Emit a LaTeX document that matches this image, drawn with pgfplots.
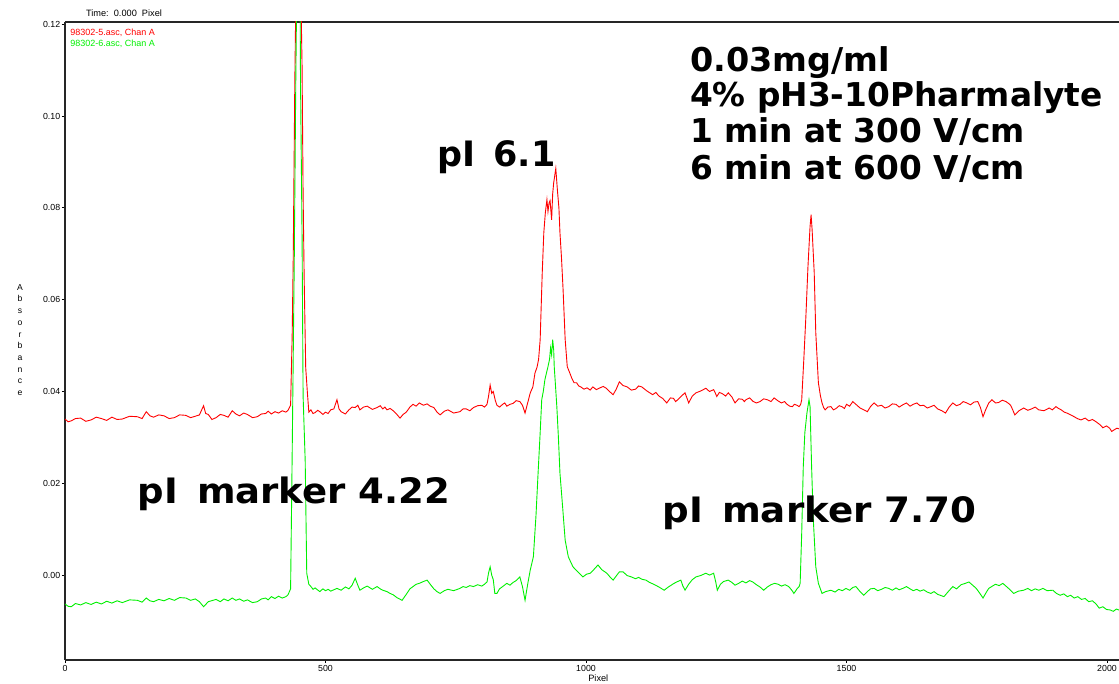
\documentclass[border=0pt]{standalone}
\usepackage{fontspec}
\setmainfont{Liberation Sans}
\newfontfamily\verd{DejaVu Sans}
\usepackage{graphicx}
\usepackage{pgfplots}
\pgfplotsset{compat=1.18}
\definecolor{tracered}{RGB}{255,0,0}
\definecolor{tracegreen}{RGB}{0,240,0}
\begin{document}
\begin{tikzpicture}
\begin{axis}[
  scale only axis, width=527pt, height=319pt,
  at={(0,0)}, anchor=south west,
  clip mode=individual,
  xmin=0, xmax=2023, ymin=-0.0185, ymax=0.1205,
  axis x line=box, axis y line=left,
  axis line style={-, line width=0.6pt, black!85},
  xtick={0,500,1000,1500,2000}, ytick={0,0.02,0.04,0.06,0.08,0.1,0.12},
  tick align=outside, tick pos=left, major tick length=1.6pt,
  every tick/.style={black, line width=0.4pt},
  /pgf/number format/assume math mode=true,
  tick label style={font=\fontsize{4.4}{5}\selectfont},
  yticklabel style={/pgf/number format/fixed, /pgf/number format/precision=2, /pgf/number format/fixed zerofill, inner sep=0.6pt},
  xticklabel style={inner sep=0.8pt, /pgf/number format/fixed, /pgf/number format/1000 sep={}},
  scaled y ticks=false,
]
\addplot[tracered, line width=0.45pt] coordinates {
(0,0.0340)(6,0.0334)(12,0.0336)(20,0.0341)(30,0.0342)(40,0.0335)(50,0.0338)(60,0.0344)(70,0.0341)(80,0.0337)(90,0.0344)(100,0.0339)(110,0.0340)(124,0.0346)(139,0.0345)(148,0.0341)(156,0.0356)(163,0.0347)(170,0.0344)(180,0.0349)(190,0.0347)(200,0.0341)(210,0.0343)(220,0.0349)(232,0.0348)(241,0.0343)(250,0.0346)(258,0.0349)(266,0.0369)(270,0.0352)(275,0.0350)(282,0.0339)(290,0.0343)(298,0.0350)(305,0.0348)(313,0.0344)(321,0.0358)(328,0.0351)(335,0.0347)(343,0.0353)(350,0.0350)(360,0.0343)(369,0.0345)(377,0.0351)(385,0.0352)(390,0.0357)(396,0.0351)(403,0.0356)(410,0.0353)(417,0.0358)(424,0.0355)(428,0.0359)(433,0.0370)(436,0.0520)(438,0.0685)(440,0.0935)(441,0.1064)(443,0.1250)(448,0.1600)(453,0.1250)(455,0.1110)(457,0.0830)(459,0.0650)(462,0.0452)(465,0.0401)(468,0.0355)(472,0.0360)(476,0.0352)(480,0.0354)(485,0.0359)(489,0.0356)(495,0.0350)(500,0.0355)(505,0.0352)(510,0.0360)(516,0.0362)(522,0.0382)(526,0.0362)(530,0.0356)(538,0.0351)(545,0.0360)(551,0.0366)(557,0.0365)(562,0.0370)(566,0.0360)(573,0.0366)(580,0.0368)(590,0.0361)(599,0.0365)(605,0.0369)(610,0.0362)(614,0.0366)(618,0.0360)(624,0.0363)(630,0.0358)(637,0.0350)(643,0.0342)(649,0.0350)(655,0.0355)(662,0.0366)(668,0.0372)(674,0.0368)(680,0.0375)(688,0.0370)(695,0.0373)(701,0.0368)(708,0.0365)(714,0.0355)(720,0.0349)(728,0.0357)(735,0.0360)(746,0.0353)(758,0.0356)(764,0.0362)(770,0.0362)(777,0.0358)(784,0.0365)(792,0.0369)(800,0.0370)(805,0.0366)(810,0.0372)(813,0.0390)(816,0.0414)(819,0.0396)(822,0.0400)(826,0.0380)(829,0.0370)(834,0.0366)(840,0.0372)(844,0.0375)(848,0.0368)(854,0.0372)(860,0.0374)(866,0.0380)(873,0.0378)(878,0.0370)(883,0.0353)(888,0.0375)(893,0.0397)(898,0.0410)(902,0.0440)(906,0.0453)(909,0.0470)(912,0.0513)(916,0.0659)(919,0.0746)(922,0.0790)(925,0.0818)(927,0.0792)(929,0.0810)(931,0.0816)(934,0.0774)(936,0.0830)(938,0.0855)(942,0.0886)(945,0.0840)(948,0.0800)(950,0.0746)(953,0.0690)(956,0.0622)(960,0.0513)(964,0.0454)(969,0.0440)(973,0.0428)(977,0.0419)(982,0.0419)(986,0.0412)(990,0.0410)(996,0.0405)(1002,0.0408)(1008,0.0403)(1013,0.0410)(1020,0.0404)(1027,0.0408)(1033,0.0411)(1039,0.0407)(1046,0.0399)(1052,0.0393)(1058,0.0405)(1064,0.0421)(1071,0.0413)(1079,0.0410)(1087,0.0403)(1095,0.0405)(1101,0.0412)(1107,0.0410)(1117,0.0401)(1128,0.0393)(1134,0.0398)(1140,0.0390)(1147,0.0385)(1155,0.0375)(1162,0.0386)(1168,0.0385)(1172,0.0378)(1176,0.0382)(1183,0.0390)(1190,0.0397)(1194,0.0385)(1197,0.0375)(1204,0.0390)(1211,0.0397)(1220,0.0401)(1230,0.0407)(1237,0.0400)(1245,0.0404)(1248,0.0397)(1251,0.0389)(1256,0.0398)(1262,0.0395)(1268,0.0390)(1273,0.0397)(1280,0.0388)(1286,0.0375)(1293,0.0384)(1300,0.0383)(1304,0.0378)(1307,0.0382)(1314,0.0386)(1320,0.0379)(1327,0.0375)(1334,0.0378)(1341,0.0384)(1348,0.0382)(1355,0.0378)(1361,0.0386)(1368,0.0380)(1375,0.0375)(1381,0.0378)(1386,0.0372)(1391,0.0368)(1396,0.0367)(1400,0.0372)(1405,0.0370)(1409,0.0367)(1412,0.0372)(1414,0.0382)(1418,0.0469)(1422,0.0563)(1426,0.0672)(1430,0.0759)(1432,0.0785)(1434,0.0752)(1438,0.0659)(1441,0.0528)(1446,0.0419)(1450,0.0390)(1453,0.0375)(1456,0.0365)(1459,0.0360)(1464,0.0366)(1470,0.0367)(1475,0.0360)(1480,0.0363)(1486,0.0369)(1491,0.0367)(1496,0.0363)(1500,0.0372)(1506,0.0368)(1512,0.0378)(1519,0.0371)(1526,0.0364)(1533,0.0360)(1540,0.0356)(1546,0.0367)(1553,0.0375)(1560,0.0368)(1567,0.0370)(1574,0.0364)(1581,0.0367)(1588,0.0373)(1595,0.0372)(1601,0.0366)(1608,0.0371)(1615,0.0375)(1622,0.0368)(1628,0.0372)(1635,0.0375)(1641,0.0369)(1648,0.0370)(1655,0.0364)(1662,0.0367)(1668,0.0370)(1675,0.0362)(1683,0.0358)(1690,0.0353)(1697,0.0366)(1704,0.0375)(1711,0.0369)(1718,0.0372)(1724,0.0378)(1731,0.0375)(1738,0.0371)(1745,0.0377)(1752,0.0378)(1757,0.0365)(1762,0.0345)(1767,0.0360)(1773,0.0375)(1779,0.0382)(1786,0.0375)(1792,0.0376)(1799,0.0381)(1806,0.0378)(1811,0.0374)(1815,0.0370)(1819,0.0360)(1823,0.0349)(1831,0.0358)(1840,0.0364)(1848,0.0359)(1855,0.0362)(1862,0.0366)(1869,0.0360)(1879,0.0358)(1889,0.0364)(1895,0.0360)(1902,0.0367)(1907,0.0363)(1912,0.0360)(1918,0.0355)(1923,0.0353)(1930,0.0349)(1937,0.0345)(1943,0.0341)(1950,0.0338)(1958,0.0342)(1965,0.0336)(1972,0.0339)(1979,0.0334)(1986,0.0328)(1992,0.0321)(1999,0.0325)(2005,0.0320)(2009,0.0313)(2013,0.0316)(2019,0.0320)(2025,0.0318)
};
\addplot[tracegreen, line width=0.45pt] coordinates {
(0,-0.0063)(6,-0.0068)(12,-0.0069)(20,-0.0062)(30,-0.0065)(40,-0.0060)(50,-0.0064)(60,-0.0059)(70,-0.0063)(80,-0.0057)(90,-0.0061)(100,-0.0056)(110,-0.0060)(124,-0.0054)(139,-0.0055)(148,-0.0059)(156,-0.0050)(163,-0.0056)(170,-0.0058)(180,-0.0053)(190,-0.0056)(200,-0.0051)(210,-0.0055)(220,-0.0049)(232,-0.0050)(241,-0.0055)(250,-0.0052)(258,-0.0058)(266,-0.0069)(275,-0.0058)(290,-0.0053)(298,-0.0058)(305,-0.0052)(313,-0.0056)(321,-0.0050)(328,-0.0055)(335,-0.0052)(343,-0.0057)(350,-0.0054)(360,-0.0060)(369,-0.0058)(377,-0.0052)(385,-0.0050)(390,-0.0054)(396,-0.0047)(403,-0.0051)(410,-0.0046)(417,-0.0050)(424,-0.0047)(428,-0.0043)(433,-0.0030)(436,0.0260)(440,0.0680)(443,0.1080)(445,0.1300)(448,0.1500)(451,0.1300)(452,0.1080)(455,0.0740)(457,0.0390)(461,0.0250)(464,0.0004)(468,-0.0020)(472,-0.0025)(476,-0.0031)(480,-0.0028)(489,-0.0036)(495,-0.0030)(500,-0.0034)(505,-0.0031)(510,-0.0035)(516,-0.0032)(522,-0.0029)(530,-0.0033)(538,-0.0026)(545,-0.0030)(551,-0.0022)(557,-0.0007)(562,-0.0022)(566,-0.0033)(573,-0.0028)(580,-0.0024)(590,-0.0031)(599,-0.0025)(605,-0.0030)(610,-0.0033)(618,-0.0036)(624,-0.0040)(630,-0.0043)(637,-0.0049)(647,-0.0055)(655,-0.0042)(662,-0.0030)(668,-0.0025)(674,-0.0020)(680,-0.0018)(688,-0.0014)(695,-0.0011)(701,-0.0020)(708,-0.0030)(714,-0.0036)(720,-0.0040)(728,-0.0034)(735,-0.0031)(746,-0.0034)(758,-0.0029)(764,-0.0025)(770,-0.0027)(777,-0.0023)(784,-0.0025)(792,-0.0021)(800,-0.0024)(805,-0.0020)(810,-0.0015)(813,0.0005)(816,0.0018)(819,0.0000)(822,-0.0010)(825,-0.0040)(829,-0.0040)(834,-0.0030)(840,-0.0025)(848,-0.0018)(854,-0.0022)(860,-0.0016)(866,-0.0012)(873,-0.0004)(878,-0.0025)(883,-0.0055)(888,-0.0020)(893,0.0011)(899,0.0040)(904,0.0130)(908,0.0222)(912,0.0310)(915,0.0382)(918,0.0400)(921,0.0425)(924,0.0440)(927,0.0454)(930,0.0470)(932,0.0495)(934,0.0480)(936,0.0513)(938,0.0490)(939,0.0454)(941,0.0420)(944,0.0367)(947,0.0300)(950,0.0222)(955,0.0150)(960,0.0076)(966,0.0040)(970,0.0030)(975,0.0018)(980,0.0012)(986,0.0005)(994,-0.0004)(1001,0.0002)(1008,0.0004)(1015,0.0012)(1023,0.0022)(1030,0.0012)(1040,0.0004)(1046,-0.0004)(1052,-0.0011)(1058,-0.0002)(1064,0.0007)(1071,0.0007)(1079,-0.0001)(1087,-0.0004)(1095,-0.0008)(1101,-0.0005)(1107,-0.0009)(1115,-0.0011)(1122,-0.0016)(1130,-0.0020)(1140,-0.0026)(1150,-0.0033)(1158,-0.0026)(1169,-0.0018)(1176,-0.0014)(1182,-0.0011)(1186,-0.0024)(1190,-0.0033)(1197,-0.0020)(1204,-0.0010)(1211,-0.0004)(1220,-0.0001)(1230,0.0004)(1237,0.0000)(1245,0.0004)(1249,-0.0015)(1252,-0.0033)(1258,-0.0020)(1264,-0.0014)(1273,-0.0011)(1280,-0.0016)(1286,-0.0022)(1293,-0.0018)(1300,-0.0013)(1307,-0.0017)(1314,-0.0012)(1320,-0.0015)(1327,-0.0021)(1334,-0.0026)(1341,-0.0033)(1348,-0.0026)(1355,-0.0021)(1362,-0.0018)(1369,-0.0020)(1375,-0.0024)(1382,-0.0021)(1389,-0.0025)(1395,-0.0033)(1399,-0.0040)(1405,-0.0030)(1409,-0.0025)(1411,-0.0018)(1414,0.0091)(1417,0.0236)(1420,0.0310)(1424,0.0353)(1428,0.0382)(1430,0.0367)(1433,0.0236)(1436,0.0127)(1441,0.0018)(1446,-0.0018)(1453,-0.0040)(1460,-0.0036)(1470,-0.0033)(1478,-0.0037)(1485,-0.0031)(1492,-0.0034)(1499,-0.0029)(1506,-0.0033)(1512,-0.0027)(1518,-0.0025)(1526,-0.0036)(1533,-0.0044)(1540,-0.0036)(1546,-0.0030)(1553,-0.0029)(1560,-0.0034)(1567,-0.0031)(1574,-0.0027)(1581,-0.0029)(1588,-0.0033)(1595,-0.0028)(1601,-0.0032)(1608,-0.0029)(1615,-0.0025)(1622,-0.0030)(1628,-0.0034)(1635,-0.0031)(1641,-0.0035)(1648,-0.0032)(1655,-0.0037)(1662,-0.0040)(1668,-0.0036)(1675,-0.0042)(1687,-0.0047)(1696,-0.0035)(1704,-0.0025)(1711,-0.0030)(1720,-0.0021)(1728,-0.0018)(1735,-0.0015)(1742,-0.0022)(1749,-0.0029)(1756,-0.0040)(1762,-0.0050)(1768,-0.0038)(1773,-0.0029)(1780,-0.0024)(1786,-0.0020)(1793,-0.0023)(1800,-0.0018)(1807,-0.0025)(1814,-0.0032)(1821,-0.0040)(1830,-0.0035)(1840,-0.0033)(1848,-0.0029)(1855,-0.0034)(1862,-0.0030)(1869,-0.0033)(1877,-0.0029)(1885,-0.0034)(1896,-0.0033)(1903,-0.0040)(1910,-0.0044)(1917,-0.0041)(1924,-0.0047)(1930,-0.0044)(1937,-0.0050)(1944,-0.0047)(1951,-0.0053)(1958,-0.0051)(1965,-0.0058)(1972,-0.0056)(1979,-0.0063)(1985,-0.0072)(1992,-0.0069)(1999,-0.0075)(2006,-0.0076)(2012,-0.0079)(2018,-0.0074)(2025,-0.0077)
};
% annotations
\begin{scope}[every node/.style={inner sep=0pt, anchor=base west, font=\verd\bfseries\fontsize{16.4}{18}\selectfont}]
\node at (axis cs:1199,0.1098) {\scalebox{1.02}[1]{0.03mg/ml}};
\node at (axis cs:1199,0.1021) {4\% pH3-10Pharmalyte};
\node at (axis cs:1199,0.0942) {1 min at 300 V/cm};
\node at (axis cs:1199,0.0861) {6 min at 600 V/cm};
\end{scope}
\begin{scope}[every node/.style={inner sep=0pt, anchor=base west, font=\verd\bfseries\fontsize{17.5}{20}\selectfont}]
\node at (axis cs:714,0.0890) {pI\, 6.1};
\node at (axis cs:139,0.0157) {\scalebox{1.058}[1]{pI\, marker 4.22}};
\node at (axis cs:1146,0.01156) {\scalebox{1.064}[1]{pI\, marker 7.70}};
\end{scope}
% small texts
\node[inner sep=0pt, anchor=west, text=tracered, font=\fontsize{4.5}{5}\selectfont] at (rel axis cs:0,1) [xshift=2.5pt, yshift=-5.5pt] {98302-5.asc, Chan A};
\node[inner sep=0pt, anchor=west, text=tracegreen, font=\fontsize{4.5}{5}\selectfont] at (rel axis cs:0,1) [xshift=2.5pt, yshift=-10.8pt] {98302-6.asc, Chan A};
\node[inner sep=0pt, font=\fontsize{4.6}{5}\selectfont] at (rel axis cs:0.056,1) [yshift=4.6pt] {Time:\ \ 0.000\ \ Pixel};
\node[inner sep=0pt, font=\fontsize{4.6}{5}\selectfont] at (rel axis cs:0.506,0) [yshift=-9pt] {Pixel};
\node[inner sep=0pt, align=center, font=\fontsize{4.3}{5.85}\selectfont] at (rel axis cs:0,0.5016) [xshift=-22.5pt] {A\\b\\s\\o\\r\\b\\a\\n\\c\\e};
\end{axis}
\pgfresetboundingbox
\path (-32.5pt,-12pt) rectangle (527pt,330pt);
\end{tikzpicture}
\end{document}
